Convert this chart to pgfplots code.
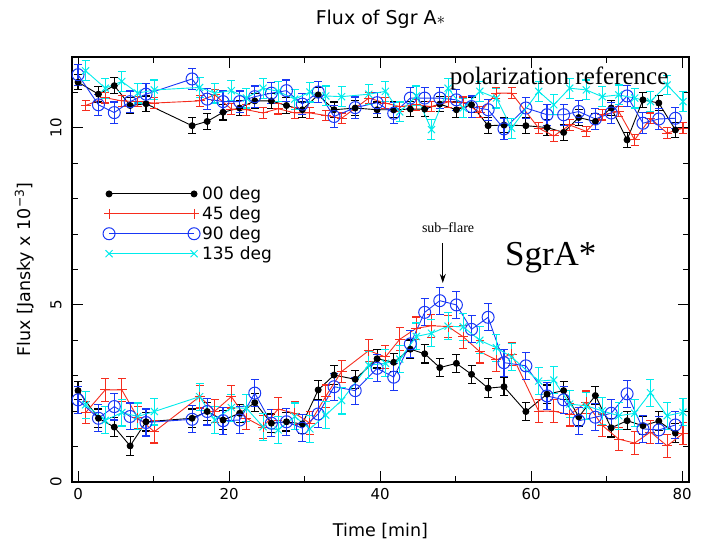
\documentclass[border=0pt]{standalone}
\usepackage{fontspec}
\setmainfont{DejaVu Sans}
\newfontfamily\serifann{Liberation Serif}
\usepackage{pgfplots}
\usepackage{pgfplotstable}
\pgfplotsset{compat=1.18}
\usetikzlibrary{arrows.meta}

\definecolor{cred}{RGB}{245,45,30}
\definecolor{cblue}{RGB}{25,55,245}
\definecolor{ccyan}{RGB}{0,235,235}

% 00 deg
\pgfplotstableread{
t up eu lo el
0.0 11.29 0.22 2.58 0.26
2.7 10.95 0.22 1.80 0.26
4.8 11.19 0.22 1.55 0.26
6.9 10.63 0.22 1.02 0.26
9.0 10.68 0.22 1.70 0.26
15.1 10.06 0.22 1.80 0.26
17.1 10.18 0.22 1.99 0.26
19.2 10.44 0.22 1.75 0.26
21.4 10.56 0.22 1.94 0.26
23.4 10.76 0.22 2.24 0.26
25.6 10.76 0.22 1.66 0.26
27.6 10.63 0.22 1.70 0.26
29.7 10.51 0.22 1.64 0.26
31.8 10.93 0.22 2.60 0.26
33.9 10.51 0.22 3.02 0.26
36.7 10.56 0.22 2.90 0.26
39.6 10.51 0.22 3.48 0.26
41.8 10.51 0.22 3.38 0.26
44.0 10.53 0.22 3.75 0.26
45.9 10.53 0.22 3.62 0.26
47.9 10.67 0.22 3.23 0.26
50.1 10.51 0.22 3.35 0.26
52.1 10.65 0.22 3.04 0.26
54.3 10.06 0.22 2.65 0.26
56.4 10.08 0.22 2.69 0.26
59.3 10.06 0.22 1.99 0.26
62.1 10.01 0.22 2.48 0.26
64.3 9.87 0.22 2.58 0.26
66.3 10.29 0.22 1.84 0.26
68.5 10.18 0.22 2.44 0.26
70.6 10.56 0.22 1.53 0.26
72.7 9.66 0.22 1.73 0.26
74.8 10.79 0.22 1.59 0.26
76.9 10.70 0.22 1.72 0.26
79.1 9.94 0.22 1.38 0.26
}\blackdata

% 45 deg
\pgfplotstableread{
t up eu lo el
1.0 10.63 0.15 1.96 0.32
3.6 10.85 0.15 2.60 0.32
5.8 10.76 0.15 2.60 0.32
7.9 10.74 0.15 1.82 0.32
10.1 10.70 0.15 1.42 0.32
16.1 10.76 0.15 2.41 0.32
18.1 10.93 0.15 2.00 0.32
20.3 10.53 0.15 2.41 0.32
22.3 10.51 0.15 1.80 0.32
24.5 10.42 0.15 1.55 0.32
26.5 10.54 0.15 2.06 0.32
28.7 10.42 0.15 1.94 0.32
30.7 10.42 0.15 1.66 0.32
32.8 10.35 0.15 2.42 0.32
34.9 10.27 0.15 3.12 0.32
38.5 10.84 0.15 3.71 0.32
40.7 10.70 0.15 3.53 0.32
42.6 10.60 0.15 4.03 0.32
44.8 10.65 0.15 4.34 0.32
46.8 10.60 0.15 4.41 0.32
49.0 10.73 0.15 4.39 0.32
51.0 10.72 0.15 4.10 0.32
53.2 10.44 0.15 3.68 0.32
55.4 10.98 0.15 3.45 0.32
57.4 10.98 0.15 3.61 0.32
61.0 9.99 0.15 2.00 0.32
63.0 9.77 0.15 2.00 0.32
65.1 10.08 0.15 1.90 0.32
67.3 9.90 0.15 2.25 0.32
69.4 10.37 0.15 1.60 0.32
71.6 10.46 0.15 1.21 0.32
73.7 9.66 0.15 1.10 0.32
75.8 10.27 0.15 1.41 0.32
78.0 9.85 0.15 1.02 0.32
80.1 9.99 0.15 1.37 0.32
}\reddata

% 90 deg
\pgfplotstableread{
t up eu lo el
0.0 11.50 0.30 2.32 0.38
2.7 10.65 0.30 1.80 0.38
4.8 10.43 0.30 2.13 0.38
6.9 10.74 0.30 1.85 0.38
9.0 10.95 0.30 1.68 0.38
15.1 11.38 0.30 1.77 0.38
17.1 10.81 0.30 1.99 0.38
19.2 10.74 0.30 1.73 0.38
21.4 10.74 0.30 1.75 0.38
23.4 10.88 0.30 2.51 0.38
25.6 10.98 0.30 1.66 0.38
27.6 11.05 0.30 1.70 0.38
29.7 10.67 0.30 1.52 0.38
31.8 11.01 0.30 1.92 0.38
33.9 10.32 0.30 2.69 0.38
36.7 10.57 0.30 2.58 0.38
39.6 10.71 0.30 3.21 0.38
41.8 10.41 0.30 2.96 0.38
44.0 10.84 0.30 3.90 0.38
45.9 10.84 0.30 4.79 0.38
47.9 10.84 0.30 5.12 0.38
50.1 10.79 0.30 5.00 0.38
52.1 10.60 0.30 4.31 0.38
54.3 10.51 0.30 4.65 0.38
56.4 9.97 0.30 3.37 0.38
59.3 10.56 0.30 3.28 0.38
62.1 10.37 0.30 2.43 0.38
64.3 10.37 0.30 2.32 0.38
66.3 10.46 0.30 1.73 0.38
68.5 10.25 0.30 1.83 0.38
70.6 10.42 0.30 1.94 0.38
72.7 10.90 0.30 2.49 0.38
74.8 10.13 0.30 1.50 0.38
76.9 10.25 0.30 1.47 0.38
79.1 10.27 0.30 1.61 0.38
}\bluedata

% 135 deg
\pgfplotstableread{
t up eu lo el
1.0 11.61 0.28 2.18 0.38
3.6 11.12 0.28 1.74 0.38
5.8 11.31 0.28 1.96 0.38
7.9 10.98 0.28 1.85 0.38
10.1 11.07 0.28 1.99 0.38
16.1 11.14 0.28 2.41 0.38
18.1 10.98 0.28 1.75 0.38
20.3 11.05 0.28 2.10 0.38
22.3 10.84 0.28 2.08 0.38
24.5 11.12 0.28 1.56 0.38
26.5 11.03 0.28 1.47 0.38
28.7 10.81 0.28 1.85 0.38
30.7 11.01 0.28 1.50 0.38
32.8 10.90 0.28 1.89 0.38
34.9 10.88 0.28 2.30 0.38
38.5 10.95 0.28 3.30 0.38
40.7 11.03 0.28 3.35 0.38
42.6 10.45 0.28 3.47 0.38
44.8 10.90 0.28 4.11 0.38
46.8 9.95 0.28 4.20 0.38
49.0 11.12 0.28 4.40 0.38
51.0 10.56 0.28 4.38 0.38
53.2 11.03 0.28 4.00 0.38
55.4 10.84 0.28 3.79 0.38
57.4 9.99 0.28 3.53 0.38
61.0 11.03 0.28 2.85 0.38
63.0 10.65 0.28 2.88 0.38
65.1 11.12 0.28 2.20 0.38
67.3 11.07 0.28 2.15 0.38
69.4 10.88 0.28 2.01 0.38
71.6 10.93 0.28 1.87 0.38
73.7 10.84 0.28 1.94 0.38
75.8 10.74 0.28 2.52 0.38
78.0 11.21 0.28 1.87 0.38
80.1 10.74 0.28 1.97 0.38
}\cyandata

\begin{document}
\begin{tikzpicture}
\begin{axis}[
  scale only axis, width=617pt, height=425pt,
  xmin=-0.8, xmax=80.9, ymin=0, ymax=12,
  xtick={0,20,40,60,80}, minor xtick={10,30,50,70},
  ytick={0,5,10}, minor ytick={1,2,3,4,6,7,8,9,11},
  tick align=inside,
  major tick length=11pt, minor tick length=6pt,
  every tick/.style={black, line width=1pt},
  axis line style={line width=1.2pt},
  /pgf/number format/assume math mode=true,
  tick label style={font=\fontsize{15}{18}\selectfont},
  yticklabel style={rotate=90, anchor=south},
  yticklabel shift=7pt,
  xticklabel shift=3pt,
  title={Flux of Sgr A$\ast$},
  title style={at={(axis description cs:0.5,1.075)}, anchor=center, font=\fontsize{19}{22}\selectfont},
  xlabel={Time [min]},
  xlabel style={at={(axis description cs:0.5,-0.115)}, anchor=center, font=\fontsize{17.5}{20}\selectfont},
  ylabel={Flux [Jansky x 10\textsuperscript{−3}]},
  ylabel style={at={(axis description cs:-0.0775,0.5)}, anchor=center, font=\fontsize{17.5}{20}\selectfont},
  legend style={draw=none, fill=none, at={(axis description cs:0.05,0.70)}, anchor=north west,
    font=\fontsize{17}{20}\selectfont, row sep=1.5pt, inner sep=0pt},
  legend cell align=left,
  legend image code/.code={\draw[#1] plot coordinates {(0pt,0pt) (85pt,0pt)};},
  error bars/y dir=both, error bars/y explicit,
  error bars/error bar style={line width=1.1pt},
  error bars/error mark options={rotate=90, mark size=4pt, line width=1.1pt},
]
% 00 deg
\addplot[black, line width=0.9pt, mark=*, mark size=3pt, forget plot]
  table[x=t, y=up, y error=eu] {\blackdata};
\addplot[black, line width=0.9pt, mark=*, mark size=3pt]
  table[x=t, y=lo, y error=el] {\blackdata};
\addlegendentry{00 deg}
% 45 deg
\addplot[cred, line width=0.9pt, mark=+, mark size=5pt, mark options={line width=1pt}, forget plot]
  table[x=t, y=up, y error=eu] {\reddata};
\addplot[cred, line width=0.9pt, mark=+, mark size=5pt, mark options={line width=1pt}]
  table[x=t, y=lo, y error=el] {\reddata};
\addlegendentry{45 deg}
% 90 deg
\addplot[cblue, line width=0.9pt, mark=o, mark size=6pt, mark options={line width=1pt}, forget plot]
  table[x=t, y=up, y error=eu] {\bluedata};
\addplot[cblue, line width=0.9pt, mark=o, mark size=6pt, mark options={line width=1pt}]
  table[x=t, y=lo, y error=el] {\bluedata};
\addlegendentry{90 deg}
% 135 deg
\addplot[ccyan, line width=0.9pt, mark=x, mark size=5pt, mark options={line width=1pt}, forget plot]
  table[x=t, y=up, y error=eu] {\cyandata};
\addplot[ccyan, line width=0.9pt, mark=x, mark size=5pt, mark options={line width=1pt}]
  table[x=t, y=lo, y error=el] {\cyandata};
\addlegendentry{135 deg}

\node[font=\serifann\fontsize{25}{28}\selectfont] at (axis cs:63.7,11.4) {polarization reference};
\node[font=\serifann\fontsize{35}{38}\selectfont] at (axis cs:62.6,6.33) {SgrA*};
\node[font=\serifann\fontsize{14}{16}\selectfont] at (axis cs:49.0,7.18) {sub–flare};
\draw[-{Stealth[length=9pt,width=6pt]}, line width=1pt] (axis cs:48.3,6.75) -- (axis cs:48.3,5.62);
\end{axis}
\pgfresetboundingbox
\path (-72pt,-62pt) rectangle (629pt,482pt);
\end{tikzpicture}
\end{document}
